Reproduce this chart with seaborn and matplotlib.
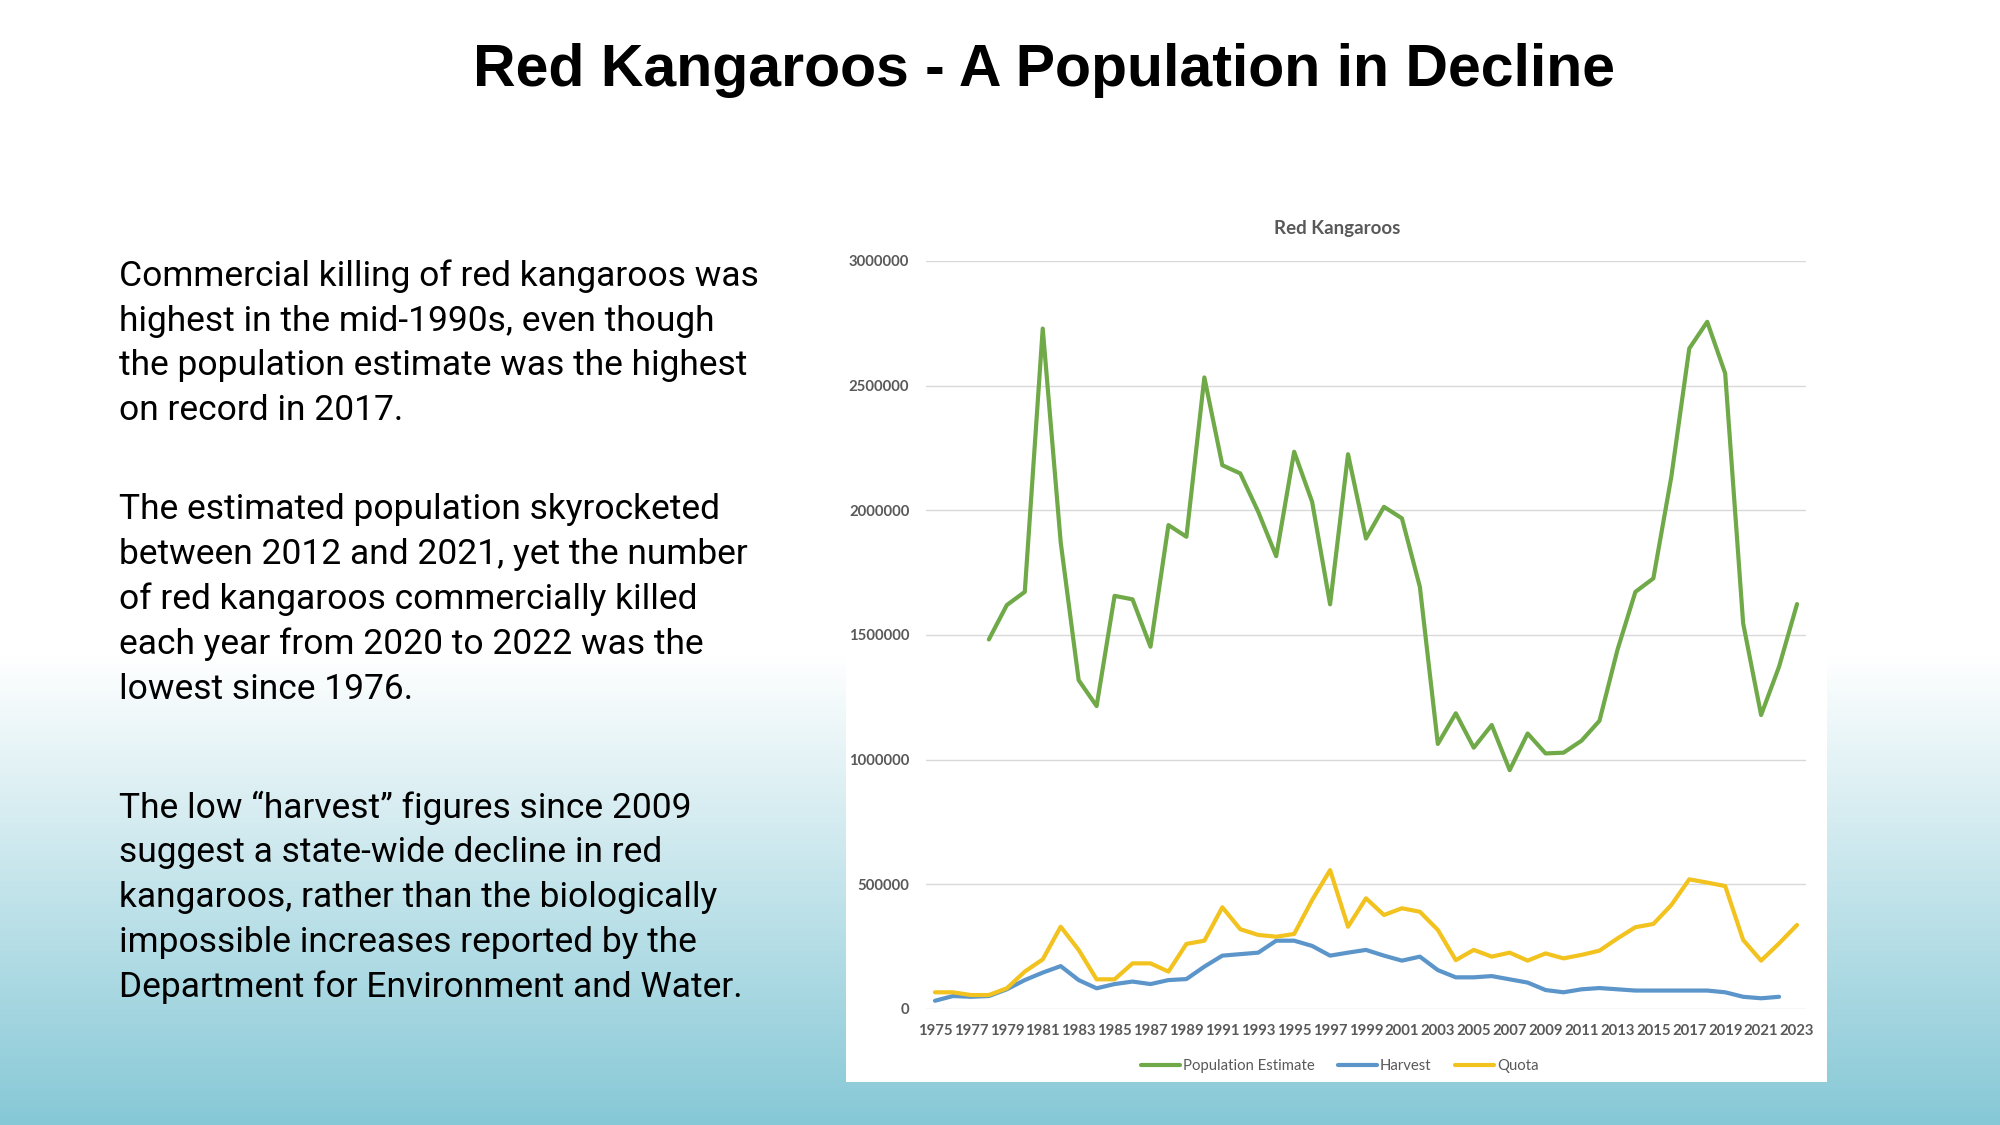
import numpy as np
import pandas as pd
import matplotlib
matplotlib.use("Agg")
import matplotlib.pyplot as plt
from matplotlib.patches import Rectangle
import seaborn as sns

# ---------------- data ----------------
population_years = list(range(1978, 2024))
population = [1482000, 1620000, 1673000, 2729000, 1872000, 1319000, 1215000, 1657000,
              1643000, 1453000, 1941000, 1894000, 2533000, 2181000, 2148000, 1994000,
              1816000, 2235000, 2034000, 1623000, 2225000, 1887000, 2014000, 1968000,
              1693000, 1063000, 1186000, 1048000, 1139000, 958000, 1105000, 1025000,
              1028000, 1076000, 1156000, 1440000, 1673000, 1727000, 2134000, 2649000,
              2756000, 2549000, 1547000, 1179000, 1373000, 1624000]

harvest_years = list(range(1975, 2023))
harvest = [33000, 52000, 49000, 52000, 79000, 116000, 146000, 172000, 116000, 83000,
           100000, 110000, 100000, 116000, 120000, 170000, 214000, 220000, 226000, 274000,
           274000, 253000, 214000, 226000, 237000, 214000, 194000, 210000, 156000, 127000,
           127000, 132000, 119000, 106000, 76000, 67000, 79000, 84000, 79000, 74000,
           74000, 74000, 74000, 74000, 67000, 49000, 43000, 49000]

quota_years = list(range(1975, 2024))
quota = [67000, 67000, 56000, 56000, 83000, 150000, 199000, 330000, 237000, 119000,
         119000, 183000, 183000, 150000, 261000, 274000, 408000, 320000, 297000, 290000,
         301000, 437000, 557000, 330000, 444000, 377000, 404000, 390000, 317000, 196000,
         237000, 210000, 226000, 194000, 223000, 203000, 217000, 234000, 283000, 328000,
         341000, 417000, 520000, 507000, 493000, 277000, 194000, 263000, 337000]

series_names = ["Population Estimate", "Harvest", "Quota"]
series_colors = ["#6FA948", "#5B95C9", "#F2C21F"]

x_ticks = list(range(1975, 2024, 2))
y_ticks = [0, 500000, 1000000, 1500000, 2000000, 2500000, 3000000]
y_tick_labels = [str(v) for v in y_ticks]

title = "Red Kangaroos - A Population in Decline"
chart_title = "Red Kangaroos"

text_lines = [
    "Commercial killing of red kangaroos was",
    "highest in the mid-1990s, even though",
    "the population estimate was the highest",
    "on record in 2017.",
    "The estimated population skyrocketed",
    "between 2012 and 2021, yet the number",
    "of red kangaroos commercially killed",
    "each year from 2020 to 2022 was the",
    "lowest since 1976.",
    "The low \u201charvest\u201d figures since 2009",
    "suggest a state-wide decline in red",
    "kangaroos, rather than the biologically",
    "impossible increases reported by the",
    "Department for Environment and Water.",
]
text_baselines_px = [286, 331, 375, 420, 519, 564, 609, 654, 699, 818, 862, 907, 952, 997]

# ---------------- long-form table ----------------
df = pd.concat([
    pd.DataFrame({"Year": population_years, "Value": population, "Series": series_names[0]}),
    pd.DataFrame({"Year": harvest_years, "Value": harvest, "Series": series_names[1]}),
    pd.DataFrame({"Year": quota_years, "Value": quota, "Series": series_names[2]}),
], ignore_index=True)

# ---------------- figure ----------------
sns.set_theme(style="white")
W, H = 2000, 1125
fig = plt.figure(figsize=(20, 11.25), dpi=100)

# background gradient (white -> teal)
bg = fig.add_axes([0, 0, 1, 1], zorder=-10)
rows = np.arange(H)
t = np.clip((rows - 655) / (H - 655), 0, 1)[:, None]
top = np.array([1.0, 1.0, 1.0])
bot = np.array([134, 200, 214]) / 255
grad = (1 - t) * top + t * bot
img = np.repeat(grad[:, None, :], 2, axis=1)
bg.imshow(img, aspect="auto", extent=[0, 1, 0, 1], origin="upper")
bg.set_axis_off()

# white chart panel
fig.patches.append(Rectangle((846 / W, 1 - 1082 / H), (1827 - 846) / W, (1082 - 180) / H,
                             transform=fig.transFigure, facecolor="white",
                             edgecolor="none", zorder=-5))

# main axes
ax_l, ax_r, ax_t, ax_b = 926, 1806, 261, 1009
ax = fig.add_axes([ax_l / W, 1 - ax_b / H, (ax_r - ax_l) / W, (ax_b - ax_t) / H])
ax.set_facecolor("none")

sns.lineplot(data=df, x="Year", y="Value", hue="Series", hue_order=series_names,
             palette=series_colors, linewidth=3.0, estimator=None, ax=ax, legend=True)

ax.set_xlim(1974.5, 2023.5)
ax.set_ylim(0, 3000000)
ax.set_xticks(x_ticks)
ax.set_xticklabels([str(x) for x in x_ticks])
ax.set_yticks(y_ticks)
ax.set_yticklabels(y_tick_labels)
ax.set_xlabel("")
ax.set_ylabel("")
for s in ax.spines.values():
    s.set_visible(False)
ax.grid(axis="y", color="#D9D9D9", linewidth=1.0)
ax.grid(axis="x", visible=False)
ax.set_axisbelow(True)
ax.tick_params(axis="both", length=0, labelcolor="#595959")
ax.tick_params(axis="y", pad=12)
ax.tick_params(axis="x", pad=10.5)
for lab in ax.get_xticklabels() + ax.get_yticklabels():
    lab.set_fontfamily(["Lato", "DejaVu Sans"])
    lab.set_fontweight("bold")
    lab.set_fontsize(10.7)

handles, labels = ax.get_legend_handles_labels()
ax.get_legend().remove()
leg = fig.legend(handles, labels, loc="center", bbox_to_anchor=(1340 / W, 1 - 1066 / H),
                 ncol=3, frameon=False, handlelength=2.6, handletextpad=0.2,
                 columnspacing=1.6, prop={"family": ["Lato", "DejaVu Sans"], "size": 10.7})
for txt in leg.get_texts():
    txt.set_color("#595959")
for ln in leg.get_lines():
    ln.set_linewidth(3.0)

# chart title
fig.text(1337 / W, 1 - 228.5 / H, chart_title, ha="center", va="center",
         fontsize=13.5, fontweight="bold", color="#595959", family=["Lato", "DejaVu Sans"])

# main title
fig.text(1044 / W, 1 - 71 / H, title, ha="center", va="center", fontsize=42.5,
         fontweight="bold", color="black", family=["Liberation Sans", "DejaVu Sans"])

# left paragraphs
for line, yb in zip(text_lines, text_baselines_px):
    fig.text(119 / W, 1 - yb / H, line, ha="left", va="baseline", fontsize=25.5,
             fontweight="normal", color="#000000", family=["Roboto", "DejaVu Sans"])

fig.savefig("out.png", dpi=100)
